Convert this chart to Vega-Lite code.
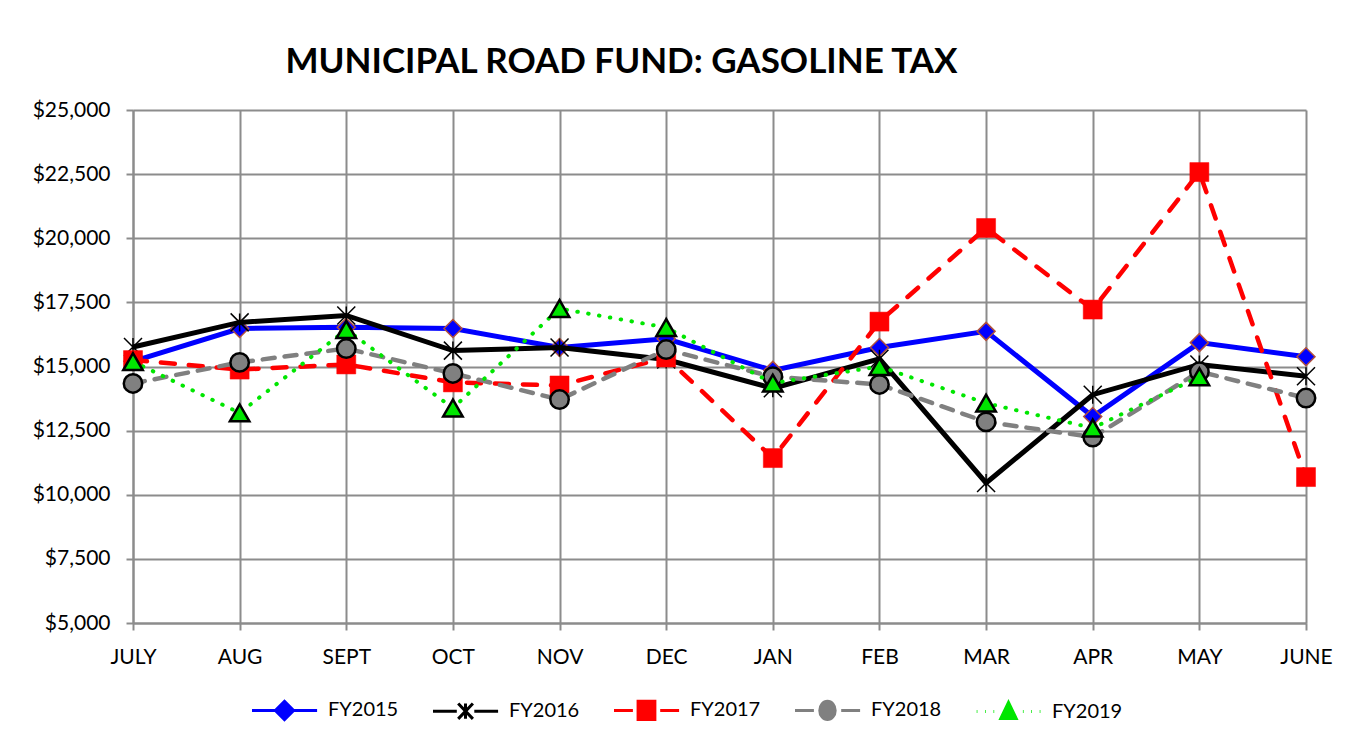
{
  "$schema": "https://vega.github.io/schema/vega-lite/v6.json",
  "autosize": {"type": "none"},
  "width": 1173,
  "height": 513,
  "padding": {"left": 133, "top": 110, "right": 52, "bottom": 120},
  "background": "white",
  "title": {
    "text": "MUNICIPAL ROAD FUND: GASOLINE TAX",
    "font": "Lato",
    "fontSize": 35,
    "fontWeight": "bold",
    "color": "black",
    "anchor": "middle",
    "frame": "group",
    "dx": -98,
    "offset": 19
  },
  "config": {
    "view": {"stroke": null},
    "axis": {
      "labelFont": "Lato",
      "labelFontSize": 21,
      "labelColor": "black",
      "gridColor": "#8c8c8c",
      "gridWidth": 2,
      "gridOpacity": 1,
      "domainColor": "#8c8c8c",
      "domainWidth": 2,
      "tickColor": "#8c8c8c",
      "tickWidth": 2,
      "tickSize": 7,
      "title": null
    },
    "legend": {
      "labelFont": "Lato",
      "labelFontSize": 20,
      "labelColor": "black",
      "symbolSize": 196,
      "labelOffset": 59,
      "columnPadding": 28,
      "symbolStrokeWidth": 3
    }
  },
  "data": {
    "values": [
      {"month": "JULY", "series": "FY2015", "value": 15200},
      {"month": "AUG", "series": "FY2015", "value": 16480},
      {"month": "SEPT", "series": "FY2015", "value": 16530},
      {"month": "OCT", "series": "FY2015", "value": 16480},
      {"month": "NOV", "series": "FY2015", "value": 15740},
      {"month": "DEC", "series": "FY2015", "value": 16080},
      {"month": "JAN", "series": "FY2015", "value": 14850},
      {"month": "FEB", "series": "FY2015", "value": 15740},
      {"month": "MAR", "series": "FY2015", "value": 16370},
      {"month": "APR", "series": "FY2015", "value": 13050},
      {"month": "MAY", "series": "FY2015", "value": 15930},
      {"month": "JUNE", "series": "FY2015", "value": 15380},
      {"month": "JULY", "series": "FY2016", "value": 15760},
      {"month": "AUG", "series": "FY2016", "value": 16720},
      {"month": "SEPT", "series": "FY2016", "value": 16990},
      {"month": "OCT", "series": "FY2016", "value": 15620},
      {"month": "NOV", "series": "FY2016", "value": 15740},
      {"month": "DEC", "series": "FY2016", "value": 15270},
      {"month": "JAN", "series": "FY2016", "value": 14150},
      {"month": "FEB", "series": "FY2016", "value": 15300},
      {"month": "MAR", "series": "FY2016", "value": 10460},
      {"month": "APR", "series": "FY2016", "value": 13900},
      {"month": "MAY", "series": "FY2016", "value": 15080},
      {"month": "JUNE", "series": "FY2016", "value": 14620},
      {"month": "JULY", "series": "FY2017", "value": 15250},
      {"month": "AUG", "series": "FY2017", "value": 14880},
      {"month": "SEPT", "series": "FY2017", "value": 15080},
      {"month": "OCT", "series": "FY2017", "value": 14380},
      {"month": "NOV", "series": "FY2017", "value": 14260},
      {"month": "DEC", "series": "FY2017", "value": 15350},
      {"month": "JAN", "series": "FY2017", "value": 11430},
      {"month": "FEB", "series": "FY2017", "value": 16750},
      {"month": "MAR", "series": "FY2017", "value": 20400},
      {"month": "APR", "series": "FY2017", "value": 17220},
      {"month": "MAY", "series": "FY2017", "value": 22580},
      {"month": "JUNE", "series": "FY2017", "value": 10690},
      {"month": "JULY", "series": "FY2018", "value": 14340},
      {"month": "AUG", "series": "FY2018", "value": 15160},
      {"month": "SEPT", "series": "FY2018", "value": 15700},
      {"month": "OCT", "series": "FY2018", "value": 14730},
      {"month": "NOV", "series": "FY2018", "value": 13710},
      {"month": "DEC", "series": "FY2018", "value": 15660},
      {"month": "JAN", "series": "FY2018", "value": 14600},
      {"month": "FEB", "series": "FY2018", "value": 14300},
      {"month": "MAR", "series": "FY2018", "value": 12840},
      {"month": "APR", "series": "FY2018", "value": 12250},
      {"month": "MAY", "series": "FY2018", "value": 14800},
      {"month": "JUNE", "series": "FY2018", "value": 13770},
      {"month": "JULY", "series": "FY2019", "value": 15190},
      {"month": "AUG", "series": "FY2019", "value": 13190},
      {"month": "SEPT", "series": "FY2019", "value": 16440},
      {"month": "OCT", "series": "FY2019", "value": 13380},
      {"month": "NOV", "series": "FY2019", "value": 17260},
      {"month": "DEC", "series": "FY2019", "value": 16520},
      {"month": "JAN", "series": "FY2019", "value": 14350},
      {"month": "FEB", "series": "FY2019", "value": 15000},
      {"month": "MAR", "series": "FY2019", "value": 13570},
      {"month": "APR", "series": "FY2019", "value": 12600},
      {"month": "MAY", "series": "FY2019", "value": 14600}
    ]
  },
  "encoding": {
    "x": {
      "field": "month",
      "type": "ordinal",
      "sort": ["JULY", "AUG", "SEPT", "OCT", "NOV", "DEC", "JAN", "FEB", "MAR", "APR", "MAY", "JUNE"],
      "scale": {"type": "point", "padding": 0},
      "axis": {"labelAngle": 0, "grid": true, "labelPadding": 16, "domain": true}
    },
    "y": {
      "field": "value",
      "type": "quantitative",
      "scale": {"domain": [5000, 25000], "nice": false, "zero": false},
      "axis": {
        "values": [5000, 7500, 10000, 12500, 15000, 17500, 20000, 22500, 25000],
        "format": "$,.0f",
        "grid": true,
        "labelPadding": 16,
        "domain": true
      }
    }
  },
  "layer": [
    {
      "transform": [{"filter": "datum.series === 'FY2015'"}],
      "mark": {"type": "line", "color": "#0000ff", "strokeWidth": 5}
    },
    {
      "transform": [{"filter": "datum.series === 'FY2015'"}],
      "mark": {"type": "point", "shape": "diamond", "size": 324, "filled": true, "fill": "#0000ff", "stroke": "#b0503c", "strokeWidth": 1.5, "opacity": 1}
    },
    {
      "transform": [{"filter": "datum.series === 'FY2016'"}],
      "mark": {"type": "line", "color": "#000000", "strokeWidth": 5}
    },
    {
      "transform": [{"filter": "datum.series === 'FY2016'"}],
      "mark": {"type": "point", "shape": "M-1,-1L1,1M1,-1L-1,1M0,-1L0,1", "size": 324, "filled": false, "stroke": "#000000", "strokeWidth": 1.5, "opacity": 1}
    },
    {
      "transform": [{"filter": "datum.series === 'FY2017'"}],
      "mark": {"type": "line", "color": "#ff0000", "strokeWidth": 4.5, "strokeDash": [14, 14], "strokeCap": "round"}
    },
    {
      "transform": [{"filter": "datum.series === 'FY2017'"}],
      "mark": {"type": "point", "shape": "square", "size": 361, "filled": true, "fill": "#ff0000", "stroke": "#ff0000", "strokeWidth": 0.5, "opacity": 1}
    },
    {
      "transform": [{"filter": "datum.series === 'FY2018'"}],
      "mark": {"type": "line", "color": "#808080", "strokeWidth": 4.5, "strokeDash": [12, 10], "strokeCap": "round"}
    },
    {
      "transform": [{"filter": "datum.series === 'FY2018'"}],
      "mark": {"type": "point", "shape": "circle", "size": 340, "filled": true, "fill": "#808080", "stroke": "#000000", "strokeWidth": 2.5, "opacity": 1}
    },
    {
      "transform": [{"filter": "datum.series === 'FY2019'"}],
      "mark": {"type": "line", "color": "#00e600", "strokeWidth": 4, "strokeDash": [0.5, 10.5], "strokeCap": "round"}
    },
    {
      "transform": [{"filter": "datum.series === 'FY2019'"}],
      "mark": {"type": "point", "shape": "triangle-up", "size": 380, "filled": true, "fill": "#00e600", "stroke": "#000000", "strokeWidth": 2.5, "opacity": 1}
    },
    {
      "transform": [{"filter": "false"}],
      "mark": {"type": "point", "filled": true, "opacity": 1, "strokeWidth": 3},
      "encoding": {
        "shape": {
          "field": "series",
          "type": "nominal",
          "scale": {
            "domain": ["FY2015", "FY2016", "FY2017", "FY2018", "FY2019"],
            "range": [
              "M-1,0L8.3,0M3.64,-1.3L4.94,0L3.64,1.3L2.34,0Z",
              "M-1,0L2.4,0M4.9,0L8.3,0M2.6,-1.1L4.7,1.1M4.7,-1.1L2.6,1.1M3.64,-1.1L3.64,1.1",
              "M-1,0L1.7,0M5.6,0L8.3,0M2.44,-1.3L4.84,-1.3L4.84,1.3L2.44,1.3Z",
              "M-1,0L1.7,0M5.6,0L8.3,0M2.54,0A1.1,1.3 0 1,0 4.74,0A1.1,1.3 0 1,0 2.54,0Z",
              "M-0.9,0L-0.8,0M0.3,0L0.4,0M1.5,0L1.6,0M5.7,0L5.8,0M6.9,0L7,0M8.1,0L8.2,0M3.64,-1.3L4.74,1L2.54,1Z"
            ]
          },
          "legend": {
            "orient": "none",
            "direction": "horizontal",
            "legendX": 116,
            "legendY": 590,
            "title": null
          }
        },
        "stroke": {
          "field": "series",
          "type": "nominal",
          "scale": {
            "domain": ["FY2015", "FY2016", "FY2017", "FY2018", "FY2019"],
            "range": ["#0000ff", "#000000", "#ff0000", "#808080", "#00e600"]
          },
          "legend": {
            "orient": "none",
            "direction": "horizontal",
            "legendX": 116,
            "legendY": 590,
            "title": null
          }
        },
        "fill": {
          "field": "series",
          "type": "nominal",
          "scale": {
            "domain": ["FY2015", "FY2016", "FY2017", "FY2018", "FY2019"],
            "range": ["#0000ff", "transparent", "#ff0000", "#808080", "#00e600"]
          },
          "legend": {
            "orient": "none",
            "direction": "horizontal",
            "legendX": 116,
            "legendY": 590,
            "title": null
          }
        }
      }
    }
  ]
}
